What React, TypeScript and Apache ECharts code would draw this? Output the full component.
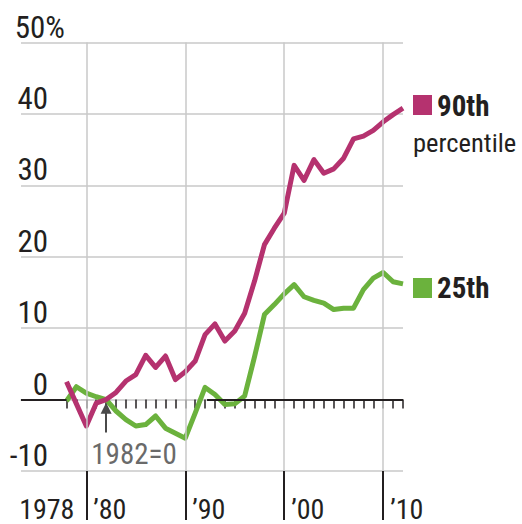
import React, { useEffect, useRef } from 'react';
import * as echarts from 'echarts';

// ---- data ----
const years = [
  1978, 1979, 1980, 1981, 1982, 1983, 1984, 1985, 1986, 1987, 1988, 1989,
  1990, 1991, 1992, 1993, 1994, 1995, 1996, 1997, 1998, 1999, 2000, 2001,
  2002, 2003, 2004, 2005, 2006, 2007, 2008, 2009, 2010, 2011, 2012,
];
const p90 = [
  2.5, -0.6, -3.7, -0.5, 0, 1.0, 2.6, 3.5, 6.2, 4.5, 6.1, 2.8,
  3.9, 5.4, 9.1, 10.6, 8.2, 9.6, 12.1, 16.6, 21.7, 24.0, 26.1, 32.8,
  30.7, 33.6, 31.7, 32.3, 33.8, 36.5, 36.9, 37.7, 38.9, 39.9, 40.8,
];
const p25 = [
  -0.2, 1.8, 0.9, 0.4, 0, -1.6, -2.8, -3.7, -3.5, -2.3, -4.0, -4.7,
  -5.4, -1.9, 1.7, 0.7, -0.7, -0.6, 0.5, 6.0, 11.9, 13.3, 14.8, 16.1,
  14.4, 13.9, 13.5, 12.6, 12.8, 12.8, 15.4, 17.0, 17.8, 16.5, 16.2,
];
const decadeYears = [1980, 1990, 2000, 2010];
const firstYearLabel = '1978';
const yMin = -10;
const yMax = 50;
const yStep = 10;
const baseYear = 1982;
const baseNote = '1982=0';
const legend90 = '90th';
const legend90Sub = 'percentile';
const legend25 = '25th';

// ---- style ----
const FONT = "'Liberation Sans Narrow', 'Arial Narrow', 'Roboto Condensed', Roboto, sans-serif";
const MAGENTA = '#b5326f';
const GREEN = '#6bb23d';
const GRID = '#c8c8c8';
const INK = '#231f20';
const NOTE = '#6a6a6a';
const X_MIN = 1973.4;
const X_MAX = 2012;
const PCT_W = 17;

export default function App() {
  const ref = useRef<HTMLDivElement>(null);

  useEffect(() => {
    if (!ref.current) return;
    const chart = echarts.init(ref.current, undefined, { renderer: 'svg' });

    const baseX = { type: 'value', min: X_MIN, max: X_MAX, position: 'bottom', splitLine: { show: false } };

    const option: any = {
      animation: false,
      grid: { left: 21, right: 119, top: 42.5, bottom: 53, containLabel: false },
      xAxis: [
        {
          ...baseX,
          axisLine: { show: true, lineStyle: { color: GRID, width: 1.5 } },
          axisTick: { show: true, customValues: years, length: 9, lineStyle: { color: INK, width: 1.5 } },
          axisLabel: { show: false },
        },
        {
          ...baseX,
          axisLine: { show: false },
          axisTick: { show: true, customValues: decadeYears, length: 49, lineStyle: { color: INK, width: 2 } },
          axisLabel: {
            customValues: decadeYears,
            formatter: (v: number) => '\u2019' + String(Math.round(v)).slice(2),
            align: 'left',
            padding: [0, 0, 0, 7],
            margin: 24,
            fontSize: 28,
            color: INK,
            fontFamily: FONT,
          },
        },
        {
          ...baseX,
          axisLine: { show: false },
          axisTick: { show: false },
          axisLabel: {
            customValues: [years[0] + 0.8],
            formatter: () => firstYearLabel,
            align: 'right',
            margin: 24,
            fontSize: 28,
            color: INK,
            fontFamily: FONT,
          },
        },
      ],
      yAxis: {
        type: 'value',
        min: yMin,
        max: yMax,
        interval: yStep,
        axisLine: { show: false },
        axisTick: { show: false },
        axisLabel: {
          margin: -(48 + PCT_W - 21),
          align: 'right',
          verticalAlign: 'bottom',
          fontSize: 31,
          color: INK,
          fontFamily: FONT,
          formatter: (v: number) => (v === yMax ? v + '%' : '{n|' + v + '}'),
          rich: { n: { padding: [0, PCT_W, 0, 0], fontSize: 31, color: INK, fontFamily: FONT } },
        },
        splitLine: {
          show: true,
          lineStyle: { color: [GRID, 'transparent', GRID, GRID, GRID, GRID, GRID], width: 1.5 },
        },
      },
      series: [
        {
          type: 'line',
          data: [],
          z: 1,
          silent: true,
          markLine: {
            silent: true,
            symbol: 'none',
            label: { show: false },
            data: [
              ...decadeYears.map((x) => ({ xAxis: x, lineStyle: { color: GRID, width: 1.5, type: 'solid' } })),
              [
                { coord: [X_MIN, 0], lineStyle: { color: INK, width: 2, type: 'solid' } },
                { coord: [years[0], 0] },
              ],
              [
                { coord: [1992.2, 0], lineStyle: { color: INK, width: 2, type: 'solid' } },
                { coord: [X_MAX, 0] },
              ],
            ],
          },
        },
        {
          name: '25th',
          type: 'line',
          data: years.map((y, i) => [y, p25[i]]),
          symbol: 'none',
          z: 3,
          lineStyle: { color: GREEN, width: 5, join: 'round' },
        },
        {
          name: '90th',
          type: 'line',
          data: years.map((y, i) => [y, p90[i]]),
          symbol: 'none',
          z: 4,
          lineStyle: { color: MAGENTA, width: 5, join: 'round' },
        },
        {
          type: 'line',
          data: [],
          z: 5,
          silent: true,
          markLine: {
            silent: true,
            symbol: ['none', 'triangle'],
            symbolSize: [11, 11],
            label: { show: false },
            lineStyle: { color: '#4a4a4a', width: 2, type: 'solid' },
            data: [[{ coord: [baseYear, -4.6] }, { coord: [baseYear, -1.2] }]],
          },
          markPoint: {
            silent: true,
            symbol: 'circle',
            symbolSize: 0,
            itemStyle: { color: 'transparent' },
            data: [
              {
                coord: [1980.5, -7.6],
                label: {
                  show: true,
                  position: 'right',
                  distance: 0,
                  formatter: baseNote,
                  fontSize: 29,
                  color: NOTE,
                  fontFamily: FONT,
                },
              },
            ],
          },
        },
      ],
      graphic: [
        { type: 'rect', shape: { x: 413, y: 95, width: 19, height: 20 }, style: { fill: MAGENTA } },
        {
          type: 'text',
          x: 437,
          y: 106,
          style: { text: legend90, fontSize: 29, fontWeight: 'bold', fontFamily: FONT, fill: INK, verticalAlign: 'middle', align: 'left' },
        },
        {
          type: 'text',
          x: 413,
          y: 142,
          style: { text: legend90Sub, fontSize: 26.5, fontFamily: FONT, fill: INK, verticalAlign: 'middle', align: 'left' },
        },
        { type: 'rect', shape: { x: 413, y: 278, width: 19, height: 20 }, style: { fill: GREEN } },
        {
          type: 'text',
          x: 437,
          y: 288,
          style: { text: legend25, fontSize: 29, fontWeight: 'bold', fontFamily: FONT, fill: INK, verticalAlign: 'middle', align: 'left' },
        },
      ],
    };

    chart.setOption(option);
    return () => chart.dispose();
  }, []);

  return (
    <div
      ref={ref}
      style={{ position: 'absolute', left: 0, top: 0, width: 522, height: 524, background: '#fff' }}
    />
  );
}
